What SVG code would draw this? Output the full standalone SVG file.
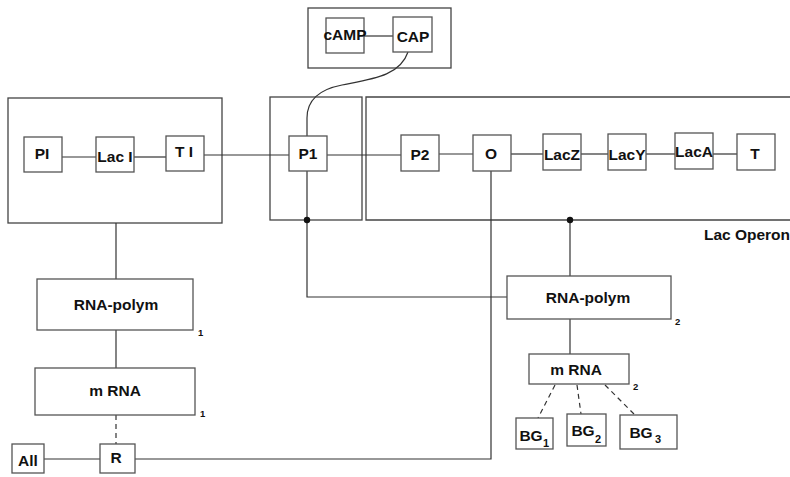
<svg xmlns="http://www.w3.org/2000/svg" width="790" height="477" viewBox="0 0 790 477">
  <style>
    .box { fill: #ffffff; stroke: #555555; stroke-width: 1.3; }
    .frame { fill: none; stroke: #444444; stroke-width: 1.3; }
    .line { fill: none; stroke: #333333; stroke-width: 1.2; }
    .dash { fill: none; stroke: #333333; stroke-width: 1.2; stroke-dasharray: 5 4; }
    .lbl { font-family: "Liberation Sans", Arial, sans-serif; font-weight: bold; font-size: 15.5px; fill: #111111; text-anchor: middle; }
    .sub { font-family: "Liberation Sans", Arial, sans-serif; font-weight: bold; font-size: 9.5px; fill: #111111; }
    .bgsub { font-family: "Liberation Sans", Arial, sans-serif; font-weight: bold; font-size: 11px; fill: #111111; }
  </style>
  <rect width="790" height="477" fill="#ffffff"/>

  <!-- enclosing frames -->
  <g id="frames">
    <rect id="cap-frame" class="frame" x="308" y="8" width="143" height="60"/>
    <rect id="laci-frame" class="frame" x="8" y="98" width="214" height="125"/>
    <rect id="p1-frame" class="frame" x="270" y="97" width="92" height="123"/>
    <path id="operon-frame" class="frame" d="M795,97 L366,97 L366,220 L795,220"/>
    <text class="lbl" x="747" y="240">Lac Operon</text>
  </g>

  <!-- connectors -->
  <g id="connectors">
    <line class="line" x1="364" y1="36" x2="393" y2="36"/>
    <path class="line" d="M408,52 C400,76 372,79 342,85 C316,90 307,102 307,118 L307,136"/>
    <line class="line" x1="62" y1="157" x2="96" y2="157"/>
    <line class="line" x1="134" y1="157" x2="166" y2="157"/>
    <line class="line" x1="204" y1="155" x2="289" y2="155"/>
    <line class="line" x1="327" y1="155" x2="401" y2="155"/>
    <line class="line" x1="439" y1="154" x2="473" y2="154"/>
    <line class="line" x1="511" y1="154" x2="543" y2="154"/>
    <line class="line" x1="581" y1="154" x2="608" y2="154"/>
    <line class="line" x1="646" y1="154" x2="675" y2="154"/>
    <line class="line" x1="713" y1="154" x2="737" y2="154"/>
    <!-- P1 to RNA polymerase 2 -->
    <path class="line" d="M307,171 L307,297 L507,297"/>
    <circle cx="307" cy="220" r="3.2" fill="#111111"/>
    <!-- operon frame to RNA polymerase 2 -->
    <line class="line" x1="570" y1="220" x2="570" y2="276"/>
    <circle cx="570" cy="220" r="3.2" fill="#111111"/>
    <line class="line" x1="570" y1="319" x2="570" y2="354"/>
    <!-- operator to repressor -->
    <path class="line" d="M491,171 L491,459 L135,459"/>
    <line class="line" x1="44" y1="459" x2="100" y2="459"/>
    <!-- Lac I frame chain -->
    <line class="line" x1="116" y1="223" x2="116" y2="279"/>
    <line class="line" x1="116" y1="330" x2="116" y2="368"/>
    <line class="dash" x1="116" y1="415" x2="116" y2="444"/>
    <!-- mRNA 2 to products -->
    <line class="dash" x1="555" y1="385" x2="538" y2="418"/>
    <line class="dash" x1="577" y1="385" x2="581" y2="414"/>
    <line class="dash" x1="605" y1="385" x2="635" y2="415"/>
  </g>

  <!-- nodes -->
  <g id="camp"><rect class="box" x="326" y="18" width="38" height="35"/><text class="lbl" x="345" y="40">cAMP</text></g>
  <g id="cap"><rect class="box" x="393" y="17" width="39" height="35"/><text class="lbl" x="413" y="42">CAP</text></g>
  <g id="pi"><rect class="box" x="24" y="137" width="38" height="35"/><text class="lbl" x="42" y="159">PI</text></g>
  <g id="laci"><rect class="box" x="96" y="137" width="38" height="35"/><text class="lbl" x="115" y="162">Lac I</text></g>
  <g id="ti"><rect class="box" x="166" y="136" width="38" height="35"/><text class="lbl" x="184" y="157">T I</text></g>
  <g id="p1"><rect class="box" x="289" y="136" width="38" height="35"/><text class="lbl" x="308" y="159">P1</text></g>
  <g id="p2"><rect class="box" x="401" y="135" width="38" height="36"/><text class="lbl" x="420" y="160">P2</text></g>
  <g id="o"><rect class="box" x="473" y="135" width="38" height="36"/><text class="lbl" x="491" y="159">O</text></g>
  <g id="lacz"><rect class="box" x="543" y="134" width="38" height="36"/><text class="lbl" x="562" y="160">LacZ</text></g>
  <g id="lacy"><rect class="box" x="608" y="134" width="38" height="36"/><text class="lbl" x="627" y="160">LacY</text></g>
  <g id="laca"><rect class="box" x="675" y="133" width="38" height="36"/><text class="lbl" x="694" y="157">LacA</text></g>
  <g id="t"><rect class="box" x="737" y="134" width="38" height="36"/><text class="lbl" x="755" y="159">T</text></g>

  <g id="rnapol1"><rect class="box" x="37" y="279" width="156" height="51"/><text class="lbl" x="116" y="310">RNA-polym</text><text class="sub" x="198" y="336">1</text></g>
  <g id="mrna1"><rect class="box" x="35" y="368" width="160" height="47"/><text class="lbl" x="115" y="396">m RNA</text><text class="sub" x="200" y="417">1</text></g>
  <g id="all"><rect class="box" x="12" y="444" width="32" height="29"/><text class="lbl" x="28" y="466">All</text></g>
  <g id="r"><rect class="box" x="100" y="444" width="35" height="29"/><text class="lbl" x="116" y="463">R</text></g>

  <g id="rnapol2"><rect class="box" x="507" y="276" width="164" height="43"/><text class="lbl" x="588" y="303">RNA-polym</text><text class="sub" x="675" y="325">2</text></g>
  <g id="mrna2"><rect class="box" x="529" y="354" width="100" height="30"/><text class="lbl" x="576" y="375">m RNA</text><text class="sub" x="633" y="390">2</text></g>
  <g id="bg1"><rect class="box" x="516" y="418" width="37" height="31"/><text class="lbl" x="531" y="441">BG</text><text class="bgsub" x="543" y="447">1</text></g>
  <g id="bg2"><rect class="box" x="567" y="414" width="39" height="32"/><text class="lbl" x="583" y="436">BG</text><text class="bgsub" x="595" y="443">2</text></g>
  <g id="bg3"><rect class="box" x="620" y="415" width="57" height="34"/><text class="lbl" x="641" y="438">BG</text><text class="bgsub" x="655" y="443">3</text></g>
</svg>
